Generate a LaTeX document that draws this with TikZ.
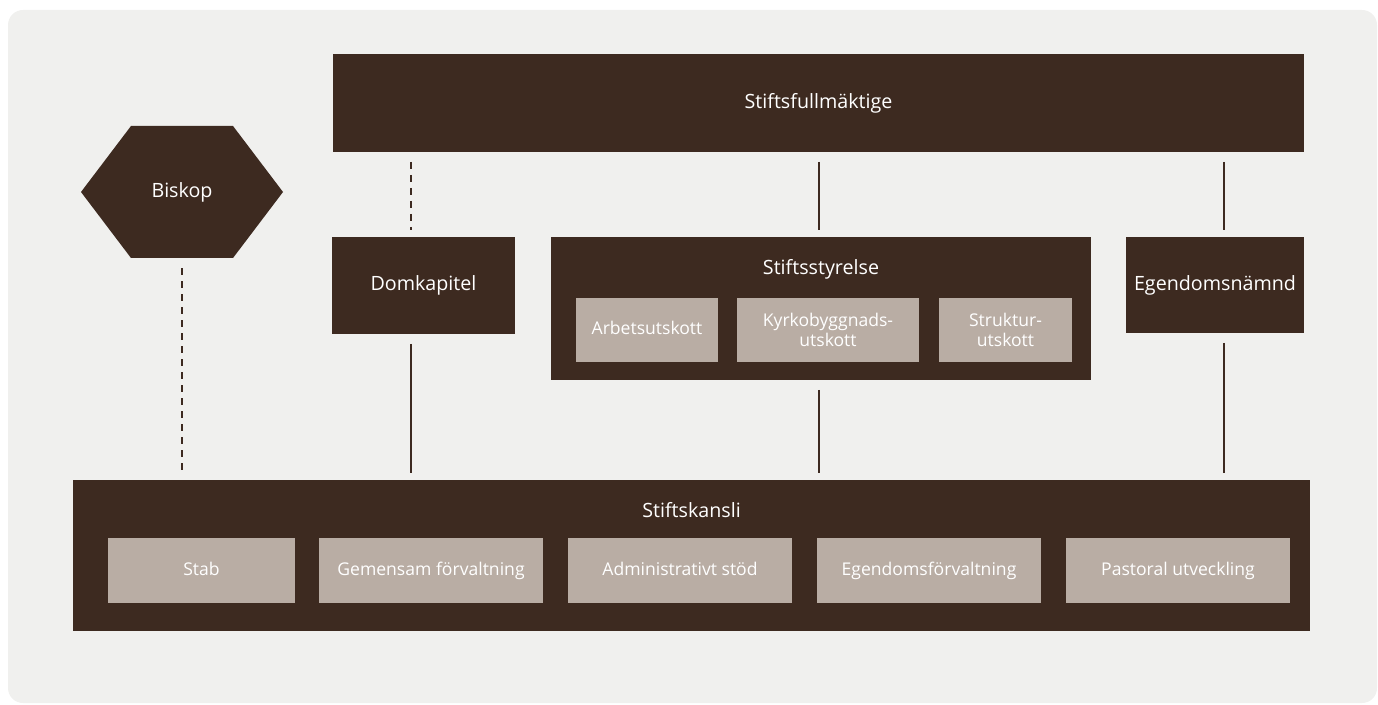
\documentclass[tikz,border=0pt]{standalone}
\usepackage{fontspec}
\setmainfont{Open Sans}
\definecolor{kbrown}{HTML}{3D2A20}
\definecolor{ktaupe}{HTML}{B9ADA4}
\definecolor{kpaper}{HTML}{F0F0EE}
\begin{document}
\begin{tikzpicture}[
    x=0.02cm, y=-0.02cm,
    % Styles
    mainbox/.style={fill=kbrown, text=white, inner sep=0pt, outer sep=0pt, align=center, font=\fontsize{11.2}{13}\selectfont},
    subbox/.style={fill=ktaupe, text=white, inner sep=0pt, outer sep=0pt, align=center, minimum height=1.3cm, font=\fontsize{10}{11.6}\selectfont},
    subline/.style={subbox, text height=0.75em, text depth=0.22em},
    title/.style={text=white, inner sep=0pt, font=\fontsize{11.2}{13}\selectfont},
    link/.style={kbrown, line width=1.1pt, shorten <=0.2cm, shorten >=0.14cm},
    dashlink/.style={link, dash pattern=on 4pt off 3.4pt},
]
\useasboundingbox (0,0) rectangle (1378,705);

% Background
\fill[kpaper, rounded corners=0.3cm] (8,10) rectangle (1377,703);

% Top: Stiftsfullmaktige
\node[mainbox, minimum width=19.42cm, minimum height=1.96cm] (full) at (818.5,103) {Stiftsfullmäktige};

% Biskop hexagon
\fill[kbrown] (81,192) -- (131,126) -- (233,126) -- (283,192) -- (233,258) -- (131,258) -- cycle;
\node[title, minimum width=4.04cm, minimum height=2.64cm] (biskop) at (182,192) {Biskop};

% Middle row
\node[mainbox, minimum width=3.66cm, minimum height=1.94cm] (dom) at (423.5,285.5) {Domkapitel};

\node[mainbox, minimum width=10.8cm, minimum height=2.86cm] (styr) at (821,308.5) {};
\node[title] (styr-title) at (821,269) {Stiftsstyrelse};
\node[subline, minimum width=2.84cm] (arb) at (647,330) {Arbetsutskott};
\node[subbox, minimum width=3.64cm] (kyrk) at (828,330) {Kyrkobyggnads-\\utskott};
\node[subbox, minimum width=2.66cm] (strk) at (1005.5,330) {Struktur-\\utskott};

\node[mainbox, minimum width=3.56cm, minimum height=1.92cm] (egn) at (1215,285) {Egendomsnämnd};

% Bottom: Stiftskansli
\node[mainbox, minimum width=24.74cm, minimum height=3.02cm] (kansli) at (691.5,555.5) {};
\node[title] (kansli-title) at (691.5,510) {Stiftskansli};
\node[subline, minimum width=3.74cm] (stab) at (201.5,570.5) {Stab};
\node[subline, minimum width=4.48cm] (gem) at (431,570.5) {Gemensam förvaltning};
\node[subline, minimum width=4.48cm] (adm) at (680,570.5) {Administrativt stöd};
\node[subline, minimum width=4.48cm] (egf) at (929,570.5) {Egendomsförvaltning};
\node[subline, minimum width=4.48cm] (pas) at (1178,570.5) {Pastoral utveckling};

% Connectors
\coordinate (domcol) at (411,0);
\coordinate (styrcol) at (819,0);
\coordinate (egncol) at (1224,0);
\draw[dashlink] (full.south -| domcol) -- (dom.north -| domcol);
\draw[link] (full.south -| styrcol) -- (styr.north -| styrcol);
\draw[link] (full.south -| egncol) -- (egn.north -| egncol);
\draw[dashlink] (biskop.south) -- (kansli.north -| biskop);
\draw[link] (dom.south -| domcol) -- (kansli.north -| domcol);
\draw[link] (styr.south -| styrcol) -- (kansli.north -| styrcol);
\draw[link] (egn.south -| egncol) -- (kansli.north -| egncol);

\end{tikzpicture}
\end{document}
